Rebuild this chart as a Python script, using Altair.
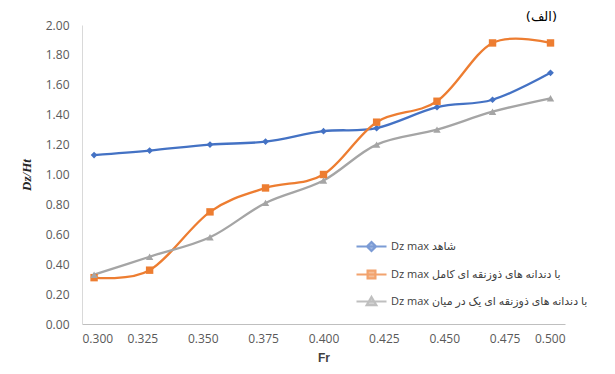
import altair as alt
import pandas as pd

fr = [0.305, 0.328, 0.353, 0.376, 0.400, 0.422, 0.447, 0.470, 0.494]
s_names = [
    "Dz max شاهد",
    "Dz max با دندانه های ذوزنقه ای کامل",
    "Dz max با دندانه های ذوزنقه ای  یک در میان",
]
blue = [1.13, 1.16, 1.20, 1.22, 1.29, 1.31, 1.45, 1.50, 1.68]
orange = [0.31, 0.36, 0.75, 0.91, 1.00, 1.35, 1.49, 1.88, 1.88]
gray = [0.33, 0.45, 0.58, 0.81, 0.96, 1.20, 1.30, 1.42, 1.51]
colors = ["#4472C4", "#ED7D31", "#A5A5A5"]
x_ticks = [0.300, 0.325, 0.350, 0.375, 0.400, 0.425, 0.450, 0.475, 0.500]
y_ticks = [0.0, 0.2, 0.4, 0.6, 0.8, 1.0, 1.2, 1.4, 1.6, 1.8, 2.0]

rows = []
for name, vals in zip(s_names, [blue, orange, gray]):
    for f, v in zip(fr, vals):
        rows.append({"Fr": f, "val": v, "series": name})
df = pd.DataFrame(rows)

legend_paths = [
    "M-1,0H1M0,-0.3L0.3,0L0,0.3L-0.3,0Z",
    "M-1,0H1M-0.26,-0.26H0.26V0.26H-0.26Z",
    "M-1,0H1M0,-0.3L0.32,0.24L-0.32,0.24Z",
]

cscale = alt.Scale(domain=s_names, range=colors)
legend = alt.Legend(
    orient="none", legendX=273, legendY=205, title=None,
    symbolSize=900, symbolStrokeWidth=2.2, labelOffset=3,
    labelFont="Open Sans, DejaVu Sans", labelFontSize=11, labelColor="#404040",
    labelLimit=0, rowPadding=2, padding=0,
)

xenc = alt.X("Fr:Q", scale=alt.Scale(domain=[0.3, 0.5], nice=False, zero=False),
             axis=alt.Axis(values=x_ticks, format=".3f", title="Fr", grid=False,
                           ticks=False, domainColor="#BFBFBF", labelColor="#595959",
                           labelFont="Open Sans", labelFontSize=12, labelPadding=9,
                           titleFont="Liberation Sans", titleFontSize=12,
                           titleFontWeight="bold", titleColor="#404040", titlePadding=8))
yenc = alt.Y("val:Q", scale=alt.Scale(domain=[0, 2], nice=False),
             axis=alt.Axis(values=y_ticks, format=".2f", title="Dz/Ht", grid=False,
                           ticks=False, domainColor="#D9D9D9", labelColor="#595959",
                           labelFont="Open Sans", labelFontSize=12, labelPadding=13,
                           titleFont="Liberation Serif", titleFontSize=13,
                           titleFontWeight="bold", titleFontStyle="italic",
                           titleColor="#262626", titlePadding=12))

base = alt.Chart(df)

lines = base.mark_line(interpolate="cardinal", strokeWidth=2.3).encode(
    x=xenc, y=yenc,
    stroke=alt.Stroke("series:N", scale=cscale, legend=legend),
    detail="series:N",
)

legend_layer = base.transform_filter("datum.val > 100").mark_point(
    filled=True, strokeWidth=2.2
).encode(
    x=xenc, y=yenc,
    stroke=alt.Stroke("series:N", scale=cscale, legend=legend),
    fill=alt.Fill("series:N", scale=cscale, legend=legend),
    shape=alt.Shape("series:N", scale=alt.Scale(domain=s_names, range=legend_paths), legend=legend),
)

shapes = ["diamond", "square", "triangle-up"]
sizes = [45, 55, 55]
point_layers = []
for name, shp, sz in zip(s_names, shapes, sizes):
    point_layers.append(
        base.transform_filter(alt.datum.series == name).mark_point(
            filled=True, shape=shp, size=sz, opacity=1
        ).encode(
            x=xenc, y=yenc,
            fill=alt.Fill("series:N", scale=cscale, legend=legend),
        )
    )

chart = alt.layer(lines, legend_layer, *point_layers).properties(
    width=483, height=299,
    autosize=alt.AutoSizeParams(type="none"),
    padding={"left": 74, "top": 17, "right": 40, "bottom": 40},
    title=alt.TitleParams("(الف)", anchor="end", orient="top", offset=4, dx=-34, dy=9,
                          font="DejaVu Sans", fontSize=13, fontWeight="normal",
                          color="#000000"),
).configure_view(stroke=None)

chart.save("out.html", embed_options={"renderer": "svg", "actions": False})
